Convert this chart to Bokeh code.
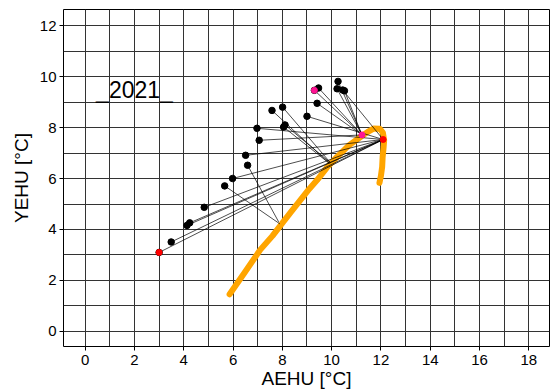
from bokeh.plotting import figure
from bokeh.models import FixedTicker, Range1d, Label
from bokeh.embed import file_html
from bokeh.resources import INLINE

# orange trajectory (AEHU, YEHU)
curve_x = [5.86, 6.5, 7.1, 7.6, 7.99, 8.4, 8.73, 9.1, 9.41, 9.8, 10.22, 10.7, 11.17, 11.45, 11.7, 11.95, 12.08, 12.13, 12.11, 12.07, 12.05, 12.0, 11.94]
curve_y = [1.46, 2.35, 3.2, 3.75, 4.24, 4.75, 5.15, 5.6, 5.94, 6.42, 6.85, 7.3, 7.63, 7.82, 7.96, 7.95, 7.8, 7.5, 7.24, 6.85, 6.46, 6.1, 5.83]

# black forecast points and the curve point each one is joined to
pt_x = [3.00, 3.49, 4.13, 4.24, 4.83, 5.66, 5.98, 6.51, 6.59, 6.97, 7.06, 7.58, 8.01, 8.05, 8.11, 9.00, 9.30, 9.41, 9.47, 10.22, 10.26, 10.52, 10.45]
pt_y = [3.10, 3.51, 4.16, 4.26, 4.87, 5.71, 6.00, 6.91, 6.52, 7.97, 7.50, 8.67, 8.80, 8.02, 8.10, 8.44, 9.46, 8.95, 9.55, 9.52, 9.81, 9.44, 9.47]
to_x = [12.09, 12.09, 12.09, 12.09, 12.09, 7.90, 12.09, 12.09, 7.85, 12.09, 11.23, 9.90, 9.95, 9.90, 9.95, 12.09, 11.23, 11.23, 11.23, 11.23, 11.23, 11.23, 12.09]
to_y = [7.53, 7.53, 7.53, 7.53, 7.53, 4.22, 7.53, 7.53, 4.30, 7.53, 7.71, 6.60, 6.62, 6.60, 6.62, 7.53, 7.71, 7.71, 7.71, 7.71, 7.71, 7.71, 7.53]

red_x = [3.00, 12.09]
red_y = [3.10, 7.53]
pink_x = [9.30, 11.23]
pink_y = [9.46, 7.71]

x_ticks = [0, 2, 4, 6, 8, 10, 12, 14, 16, 18]
y_ticks = [0, 2, 4, 6, 8, 10, 12]
grid_x = list(range(-1, 20))
grid_y = list(range(-1, 14))

p = figure(width=550, height=391, output_backend="svg", toolbar_location=None,
           x_range=Range1d(-0.88, 18.84), y_range=Range1d(-0.59, 12.63),
           min_border_left=63, min_border_right=1, min_border_top=9, min_border_bottom=44)
p.background_fill_color = "white"
p.border_fill_color = "white"
p.outline_line_color = "black"
p.outline_line_width = 1

for g, t in ((p.xgrid, grid_x), (p.ygrid, grid_y)):
    g.ticker = FixedTicker(ticks=t)
    g.grid_line_color = "#333333"
    g.grid_line_width = 1

p.xaxis.ticker = FixedTicker(ticks=x_ticks)
p.yaxis.ticker = FixedTicker(ticks=y_ticks)
for ax in (p.xaxis[0], p.yaxis[0]):
    ax.axis_line_color = None
    ax.major_tick_out = 4
    ax.major_tick_in = 0
    ax.minor_tick_out = 0
    ax.minor_tick_in = 0
    ax.major_tick_line_color = "black"
    ax.major_label_text_font = "Liberation Sans"
    ax.major_label_text_font_size = "15px"
    ax.major_label_text_color = "black"
    ax.axis_label_text_font = "Liberation Sans"
    ax.axis_label_text_font_size = "19px"
    ax.axis_label_text_font_style = "normal"
    ax.axis_label_text_color = "black"
p.xaxis.axis_label = "AEHU [°C]"
p.yaxis.axis_label = "YEHU [°C]"
p.xaxis.major_label_standoff = 4
p.yaxis.major_label_standoff = 3
p.xaxis.axis_label_standoff = 0
p.yaxis.axis_label_standoff = 5
p.yaxis.major_label_orientation = "horizontal"

p.line(curve_x, curve_y, line_color="#FFA500", line_width=6, line_cap="round", line_join="round")
p.segment(pt_x, pt_y, to_x, to_y, line_color="black", line_width=0.7)
p.scatter(pt_x, pt_y, size=6.5, color="black")
p.scatter(red_x, red_y, size=6, color="red")
p.scatter(pink_x, pink_y, size=6, color="#FF1493")

p.add_layout(Label(x=2.0, y=9.49, text="_2021_", text_font="Liberation Sans",
                   text_font_size="23px", text_align="center", text_baseline="middle",
                   text_color="black"))

open("out.html", "w").write(file_html(p, INLINE))
